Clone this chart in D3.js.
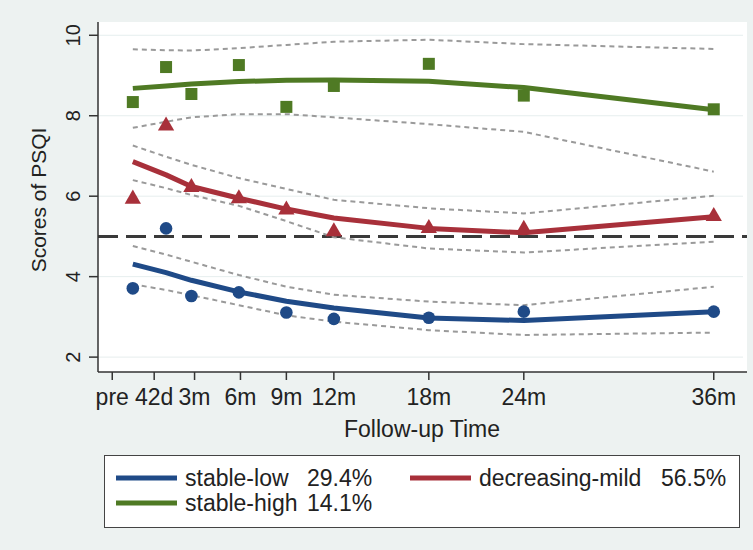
<!DOCTYPE html>
<html>
<head>
<meta charset="utf-8">
<script src="https://cdn.jsdelivr.net/npm/d3@7"></script>
<style>
body { margin: 0; background: #edf2f1; }
svg { display: block; font-family: "Liberation Sans", Arial, sans-serif; }
</style>
</head>
<body>
<svg id="chart" width="753" height="550"></svg>
<script>
// follow-up times (months) and where the axis ticks sit
var timeLabels = ["pre", "42d", "3m", "6m", "9m", "12m", "18m", "24m", "36m"];
var timeMonths = [-0.7, 1.4, 3, 6, 9, 12, 18, 24, 36];
var tickMonths = [-2, 0.65, 3.2, 6.1, 9, 12, 18, 24, 36];
var yTicks = [2, 4, 6, 8, 10];

// stable-low
var lowObs   = [3.71, 5.20, 3.52, 3.61, 3.11, 2.95, 2.98, 3.13, 3.13];
var lowFit   = [4.31, 4.10, 3.91, 3.62, 3.39, 3.22, 2.97, 2.91, 3.13];
var lowUpper = [4.76, 4.55, 4.37, 4.04, 3.75, 3.55, 3.38, 3.29, 3.75];
var lowLower = [3.81, 3.67, 3.54, 3.29, 3.04, 2.88, 2.67, 2.55, 2.61];

// decreasing-mild
var midObs   = [5.93, 7.75, 6.22, 5.94, 5.66, 5.12, 5.20, 5.18, 5.50];
var midFit   = [6.86, 6.53, 6.24, 5.95, 5.68, 5.46, 5.20, 5.09, 5.49];
var midUpper = [7.26, 6.98, 6.78, 6.45, 6.18, 5.91, 5.70, 5.57, 6.01];
var midLower = [6.40, 6.20, 6.03, 5.76, 5.38, 4.98, 4.70, 4.60, 4.87];

// stable-high
var highObs   = [8.34, 9.21, 8.54, 9.26, 8.22, 8.74, 9.29, 8.50, 8.16];
var highFit   = [8.68, 8.74, 8.79, 8.85, 8.88, 8.89, 8.86, 8.70, 8.15];
var highUpper = [9.65, 9.63, 9.62, 9.68, 9.76, 9.84, 9.89, 9.78, 9.66];
var highLower = [7.70, 7.85, 7.96, 8.04, 8.04, 7.96, 7.79, 7.60, 6.61];

var cutoff = 5;
var legendNames = ["stable-low", "decreasing-mild", "stable-high"];
var legendPct = ["29.4%", "56.5%", "14.1%"];

var colors = ["#1f4a87", "#a8303a", "#4f7a24"];

var svg = d3.select("svg#chart");
var plotL = 98, plotR = 747, plotT = 22, plotB = 372;

var x = d3.scaleLinear().domain([-2.9, 38.1]).range([plotL, plotR]);
var y = d3.scaleLinear().domain([1.63, 10.33]).range([plotB, plotT]);

// plot region + faint grid
svg.append("rect").attr("x", plotL).attr("y", plotT)
    .attr("width", plotR - plotL).attr("height", plotB - plotT).attr("fill", "#fff");
svg.append("g").selectAll("line").data(yTicks).enter().append("line")
    .attr("x1", plotL).attr("x2", plotR - 4)
    .attr("y1", function(d){return y(d)}).attr("y2", function(d){return y(d)})
    .attr("stroke", "#e6eeee").attr("stroke-width", 1);

// reference line at PSQI = 5
svg.append("line")
    .attr("x1", plotL).attr("x2", plotR)
    .attr("y1", y(cutoff)).attr("y2", y(cutoff))
    .attr("stroke", "#3a3a3a").attr("stroke-width", 3)
    .attr("stroke-dasharray", "20,8");

var line = d3.line()
    .x(function(d, i){return x(timeMonths[i])})
    .y(function(d){return y(d)});

var groups = [
    {obs: lowObs, fit: lowFit, ci: [lowUpper, lowLower], sym: d3.symbolCircle, size: 125},
    {obs: midObs, fit: midFit, ci: [midUpper, midLower], sym: d3.symbolTriangle, size: 115},
    {obs: highObs, fit: highFit, ci: [highUpper, highLower], sym: d3.symbolSquare, size: 144}
];

// confidence bands first (dotted grey)
groups.forEach(function(g){
    g.ci.forEach(function(band){
        svg.append("path").datum(band)
            .attr("d", line)
            .attr("fill", "none")
            .attr("stroke", "#9a9a9a")
            .attr("stroke-width", 2)
            .attr("stroke-dasharray", "5,4");
    });
});

groups.forEach(function(g, k){
    svg.append("path").datum(g.fit)
        .attr("d", line)
        .attr("fill", "none")
        .attr("stroke", colors[k])
        .attr("stroke-width", 5)
        .attr("stroke-linejoin", "round");
    svg.append("g").selectAll("path").data(g.obs).enter().append("path")
        .attr("d", d3.symbol().type(g.sym).size(g.size))
        .attr("transform", function(d, i){return "translate(" + x(timeMonths[i]) + "," + y(d) + ")"})
        .attr("fill", colors[k]);
});

// axes
var xAxis = svg.append("g").attr("transform", "translate(0," + plotB + ")");
xAxis.append("line").attr("x1", plotL).attr("x2", plotR)
    .attr("stroke", "#333").attr("stroke-width", 1.5);
xAxis.selectAll("line.tick").data(tickMonths).enter().append("line")
    .attr("class", "tick")
    .attr("x1", function(d){return x(d)}).attr("x2", function(d){return x(d)})
    .attr("y1", 0).attr("y2", 8)
    .attr("stroke", "#333").attr("stroke-width", 1.5);
xAxis.selectAll("text").data(tickMonths).enter().append("text")
    .attr("x", function(d){return x(d)}).attr("y", 33)
    .attr("text-anchor", "middle").attr("font-size", 23).attr("fill", "#222")
    .text(function(d, i){return timeLabels[i]});

var yAxis = svg.append("g");
yAxis.append("line").attr("x1", plotL).attr("x2", plotL)
    .attr("y1", plotT).attr("y2", plotB)
    .attr("stroke", "#333").attr("stroke-width", 1.5);
yAxis.selectAll("line.tick").data(yTicks).enter().append("line")
    .attr("class", "tick")
    .attr("x1", plotL - 9).attr("x2", plotL)
    .attr("y1", function(d){return y(d)}).attr("y2", function(d){return y(d)})
    .attr("stroke", "#333").attr("stroke-width", 1.5);
yAxis.selectAll("text").data(yTicks).enter().append("text")
    .attr("transform", function(d){return "translate(80," + y(d) + ") rotate(-90)"})
    .attr("text-anchor", "middle").attr("font-size", 20).attr("fill", "#222")
    .text(function(d){return d});

svg.append("text")
    .attr("transform", "translate(46,200) rotate(-90)")
    .attr("text-anchor", "middle").attr("font-size", 21).attr("fill", "#222")
    .text("Scores of PSQI");
svg.append("text")
    .attr("x", 422).attr("y", 437)
    .attr("text-anchor", "middle").attr("font-size", 23).attr("fill", "#222")
    .text("Follow-up Time");

// legend
var legend = svg.append("g");
legend.append("rect").attr("x", 104.5).attr("y", 455.5).attr("width", 635).attr("height", 72)
    .attr("fill", "#fff").attr("stroke", "#444").attr("stroke-width", 1);
var legendPos = [[116, 478], [410, 478], [116, 503]];
legendNames.forEach(function(name, k){
    var p = legendPos[k];
    legend.append("line").attr("x1", p[0]).attr("x2", p[0] + 61)
        .attr("y1", p[1]).attr("y2", p[1])
        .attr("stroke", colors[k]).attr("stroke-width", 5);
    legend.append("text").attr("x", p[0] + 69).attr("y", p[1] + 8)
        .attr("font-size", 23).attr("fill", "#222").text(name);
    legend.append("text").attr("x", p[0] + (k == 1 ? 251 : 191)).attr("y", p[1] + 8)
        .attr("font-size", 23).attr("fill", "#222").text(legendPct[k]);
});
</script>
</body>
</html>
